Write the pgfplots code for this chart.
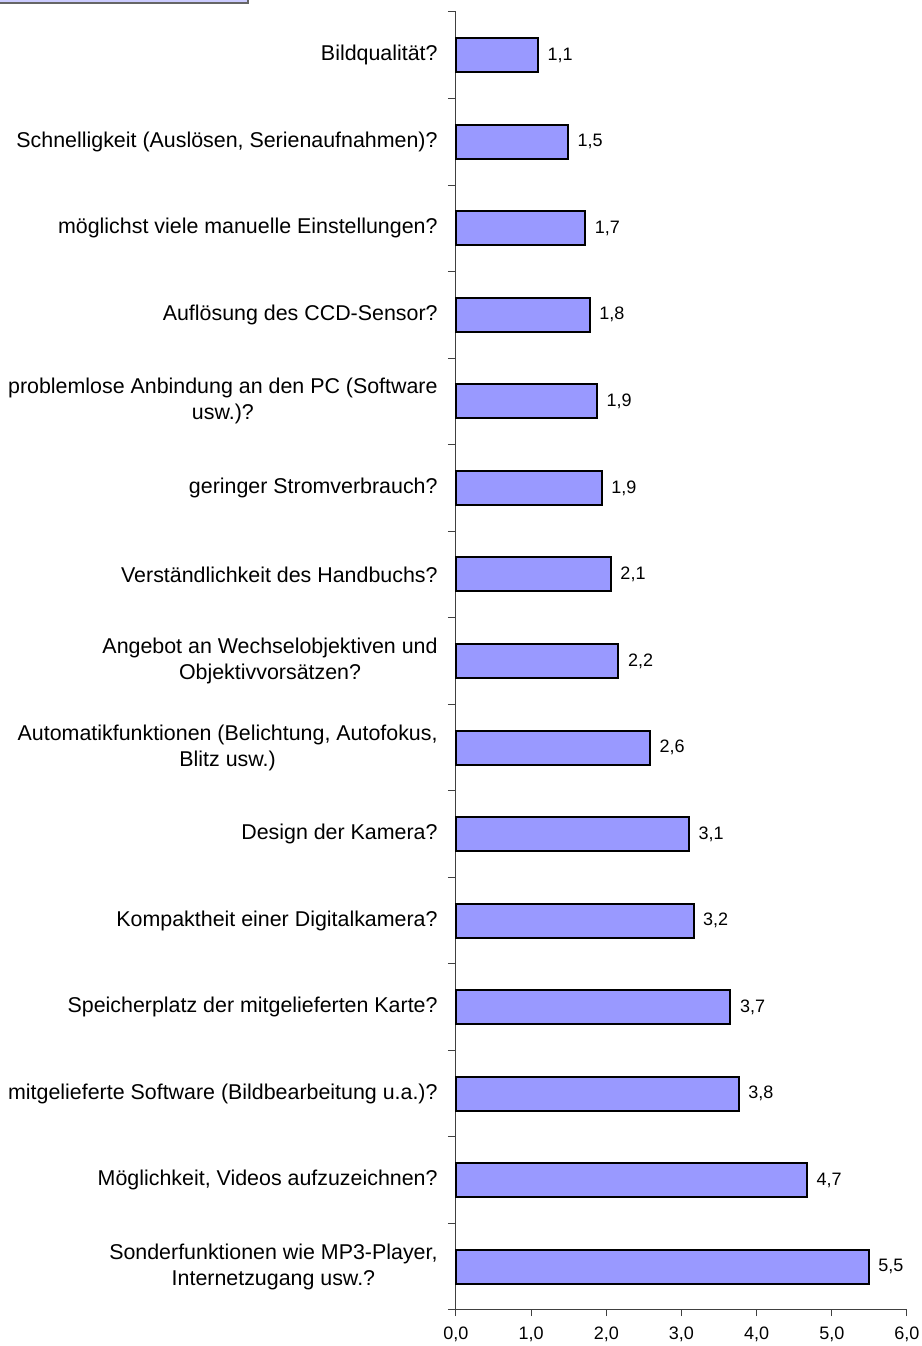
\documentclass[border=0pt]{standalone}
\usepackage{pgfplots}
\pgfplotsset{compat=1.18}
\usepackage{fontspec}
\setmainfont{Liberation Sans}
\definecolor{barblue}{HTML}{9999FF}
\definecolor{boxfill}{HTML}{CCCCFF}

\begin{document}
\begin{tikzpicture}
\useasboundingbox (-228pt,-18pt) rectangle (233pt,655pt);
% fragment of a box cut off at the top left
\filldraw[fill=boxfill, draw=black!60, line width=0.8pt] (-229pt,653.5pt) rectangle (-104pt,657pt);
\begin{axis}[
    scale only axis,
    width=225.5pt,
    height=649pt,
    xbar,
    bar width=17pt,
    xmin=0, xmax=6,
    ymin=-0.5, ymax=14.5,
    axis x line*=bottom,
    axis y line*=left,
    axis line style={black!75, line width=0.5pt},
    xtick={0,1,...,6},
    xticklabel style={font=\fontsize{9}{11}\selectfont, yshift=-2pt},
    /pgf/number format/.cd, fixed, fixed zerofill, precision=1, use comma, assume math mode=true,
    /pgfplots/.cd,
    ytick={0,...,14},
    yticklabels={
        {Sonderfunktionen wie MP3-Player,\\Internetzugang usw.?},
        {Möglichkeit, Videos aufzuzeichnen?},
        {mitgelieferte Software (Bildbearbeitung u.a.)?},
        {Speicherplatz der mitgelieferten Karte?},
        {Kompaktheit einer Digitalkamera?},
        {Design der Kamera?},
        {Automatikfunktionen (Belichtung, Autofokus,\\Blitz usw.)},
        {Angebot an Wechselobjektiven und\\Objektivvorsätzen?},
        {Verständlichkeit des Handbuchs?},
        {geringer Stromverbrauch?},
        {problemlose Anbindung an den PC (Software\\usw.)?},
        {Auflösung des CCD-Sensor?},
        {möglichst viele manuelle Einstellungen?},
        {Schnelligkeit (Auslösen, Serienaufnahmen)?},
        {Bildqualität?}
    },
    yticklabel style={align=center, font=\fontsize{10.7}{13}\selectfont, inner sep=0pt, xshift=-6pt},
    minor ytick={-0.5,0.5,...,14.5},
    major y tick style={draw=none},
    tick align=outside,
    major tick length=3pt,
    minor tick length=4pt,
    tick style={black!75, line width=0.5pt},
    nodes near coords,
    point meta=explicit symbolic,
    every node near coord/.append style={font=\fontsize{9}{11}\selectfont, anchor=west, xshift=1pt},
    clip=false,
]
\addplot[draw=black, line width=1pt, fill=barblue] table[meta=label] {
x y label
1.09 14 1,1
1.49 13 1,5
1.72 12 1,7
1.78 11 1,8
1.875 10 1,9
1.94 9 1,9
2.06 8 2,1
2.16 7 2,2
2.58 6 2,6
3.10 5 3,1
3.16 4 3,2
3.65 3 3,7
3.76 2 3,8
4.67 1 4,7
5.49 0 5,5
};
\end{axis}
\end{tikzpicture}
\end{document}
